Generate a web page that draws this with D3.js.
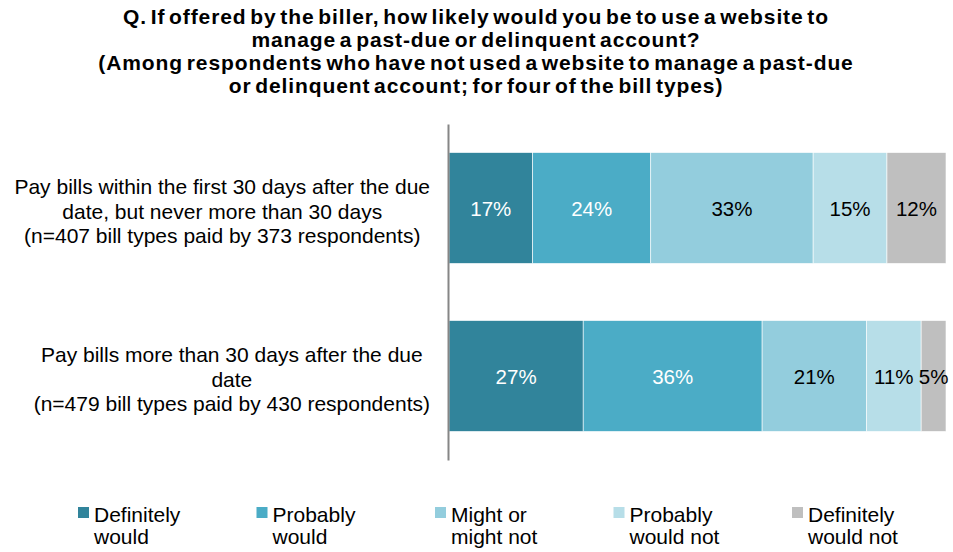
<!DOCTYPE html>
<html>
<head>
<meta charset="utf-8">
<script src="https://cdn.jsdelivr.net/npm/d3@7"></script>
<style>
  html, body { margin: 0; padding: 0; background: #fff; }
  svg { display: block; font-family: "Liberation Sans", Arial, sans-serif; }
</style>
</head>
<body>
<svg id="chart" width="953" height="552"></svg>
<script>
// Survey question title, one entry per line
const titleLines = [
  "Q. If offered by the biller, how likely would you be to use a website to",
  "manage a past-due or delinquent account?",
  "(Among respondents who have not used a website to manage a past-due",
  "or delinquent account; for four of the bill types)"
];

// Respondent groups (rows), with their wrapped label lines
const categories = ["within30", "over30"];
const categoryLabels = [
  ["Pay bills within the first 30 days after the due",
   "date, but never more than 30 days",
   "(n=407 bill types paid by 373 respondents)"],
  ["Pay bills more than 30 days after the due",
   "date",
   "(n=479 bill types paid by 430 respondents)"]
];

// Answer options (stack order, left to right)
const seriesNames = ["Definitely would", "Probably would", "Might or might not", "Probably would not", "Definitely would not"];
const legendLines = [
  ["Definitely", "would"],
  ["Probably", "would"],
  ["Might or", "might not"],
  ["Probably", "would not"],
  ["Definitely", "would not"]
];

// Percent of bill types per answer, one array per answer option
const definitelyWould    = [17, 27];
const probablyWould      = [24, 36];
const mightOrMightNot    = [33, 21];
const probablyWouldNot   = [15, 11];
const definitelyWouldNot = [12, 5];

const seriesValues = [definitelyWould, probablyWould, mightOrMightNot, probablyWouldNot, definitelyWouldNot];
const seriesColors = ["#31849b", "#4bacc6", "#93cddd", "#b7dee8", "#bfbfbf"];
const labelColors  = ["#ffffff", "#ffffff", "#000000", "#000000", "#000000"];

// Build row objects for d3.stack
const rows = categories.map((c, i) => {
  const r = { category: c };
  seriesNames.forEach((s, j) => { r[s] = seriesValues[j][i]; });
  return r;
});

const svg = d3.select("#chart");

// Title
svg.append("g")
  .selectAll("text")
  .data(titleLines)
  .join("text")
  .attr("x", 476)
  .attr("y", (d, i) => 24 + i * 23)
  .attr("text-anchor", "middle")
  .attr("font-size", 21)
  .attr("font-weight", "bold")
  .attr("word-spacing", -3)
  .attr("letter-spacing", 0.9)
  .attr("fill", "#000")
  .text(d => d);

// Scales
const x = d3.scaleLinear().domain([0, 1]).range([449, 946]);
const y = d3.scaleBand()
  .domain(categories)
  .range([124, 460])
  .paddingInner(0.34)
  .paddingOuter(0.17);

// 100% stacked layout
const stacked = d3.stack()
  .keys(seriesNames)
  .offset(d3.stackOffsetExpand)(rows);

const layers = svg.append("g")
  .selectAll("g")
  .data(stacked)
  .join("g")
  .attr("fill", (d, i) => seriesColors[i]);

layers.selectAll("rect")
  .data(d => d)
  .join("rect")
  .attr("x", d => x(d[0]))
  .attr("y", d => y(d.data.category))
  .attr("width", d => x(d[1]) - x(d[0]))
  .attr("height", y.bandwidth())
  .attr("stroke", "#ffffff")
  .attr("stroke-width", 0.6);

// Value labels inside segments
stacked.forEach((layer, i) => {
  svg.append("g")
    .selectAll("text")
    .data(layer)
    .join("text")
    .attr("x", d => (x(d[0]) + x(d[1])) / 2)
    .attr("y", d => y(d.data.category) + y.bandwidth() / 2)
    .attr("dy", "0.4em")
    .attr("text-anchor", "middle")
    .attr("font-size", 20.5)
    .attr("fill", labelColors[i])
    .text(d => d.data[layer.key] + "%");
});

// Category axis line
const yAxis = d3.axisLeft(y).tickSize(0).tickFormat("");
const axisG = svg.append("g")
  .attr("transform", "translate(448,0)")
  .call(yAxis);
axisG.select(".domain").attr("stroke", "#868686").attr("stroke-width", 2);

// Category labels: wrapped block right-aligned to the axis, lines centred in the block
const labelRight = 430;
categories.forEach((c, i) => {
  const lines = categoryLabels[i];
  const g = svg.append("g");
  const texts = g.selectAll("text")
    .data(lines)
    .join("text")
    .attr("font-size", 21)
    .attr("fill", "#000")
    .attr("text-anchor", "middle")
    .text(d => d);
  let maxW = 0;
  texts.each(function () { maxW = Math.max(maxW, this.getComputedTextLength()); });
  const cx = labelRight - maxW / 2;
  const cy = y(c) + y.bandwidth() / 2 + 3;
  const lh = 24.5;
  texts
    .attr("x", cx)
    .attr("y", (d, k) => cy + (k - (lines.length - 1) / 2) * lh)
    .attr("dy", "0.36em");
});

// Legend
const lx = d3.scalePoint().domain(seriesNames).range([78, 792]);
const legend = svg.append("g")
  .selectAll("g")
  .data(seriesNames)
  .join("g")
  .attr("transform", d => `translate(${lx(d)},507)`);

legend.append("rect")
  .attr("width", 11)
  .attr("height", 11)
  .attr("fill", (d, i) => seriesColors[i]);

legend.append("text")
  .attr("font-size", 21)
  .attr("fill", "#000")
  .selectAll("tspan")
  .data((d, i) => legendLines[i])
  .join("tspan")
  .attr("x", 16)
  .attr("y", (d, k) => 15 + k * 22)
  .text(d => d);
</script>
</body>
</html>
